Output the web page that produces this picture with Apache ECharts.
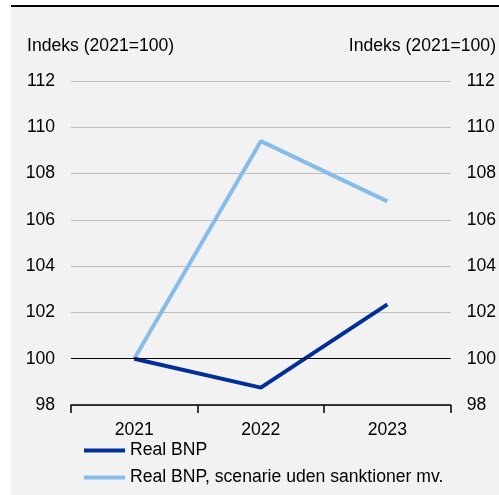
<!DOCTYPE html>
<html>
<head>
<meta charset="utf-8">
<script src="https://cdn.jsdelivr.net/npm/echarts@6/dist/echarts.min.js"></script>
<style>
  html, body { margin: 0; padding: 0; background: #fff; }
  #chart { width: 499px; height: 495px; }
</style>
</head>
<body>
<div id="chart"></div>
<script>
// data
var years = ['2021', '2022', '2023'];
var realBnp = [100, 98.75, 102.35];
var scenarioBnp = [100, 109.4, 106.8];
var yTicks = { min: 98, max: 112, step: 2 };
var axisTitle = 'Indeks (2021=100)';

var chart = echarts.init(document.getElementById('chart'));
var font = 'Liberation Sans, Arial, sans-serif';
var fs = 17.6;

var option = {
  animation: false,
  textStyle: { fontFamily: font },
  graphic: [
    { type: 'rect', shape: { x: 11, y: 7, width: 488, height: 488 }, style: { fill: '#f2f2f2' }, z: -10 },
    { type: 'rect', shape: { x: 11, y: 5, width: 488, height: 2 }, style: { fill: '#000' } },
    { type: 'text', left: 27, top: 37, style: { text: axisTitle, font: fs + 'px ' + font, fill: '#000' } },
    { type: 'text', right: 3, top: 37, style: { text: axisTitle, font: fs + 'px ' + font, fill: '#000' } }
  ],
  grid: { left: 71, right: 47, top: 81, bottom: 90 },
  legend: {
    orient: 'vertical',
    left: 79,
    top: 436,
    icon: 'rect',
    itemWidth: 41,
    itemHeight: 4,
    itemGap: 8,
    textStyle: { fontSize: fs, color: '#000', fontFamily: font, lineHeight: 19 },
    data: ['Real BNP', 'Real BNP, scenarie uden sanktioner mv.']
  },
  xAxis: {
    type: 'category',
    data: years,
    boundaryGap: true,
    axisLine: { lineStyle: { color: '#000', width: 1.5 } },
    axisTick: { show: true, length: 8, lineStyle: { color: '#000', width: 1.5 } },
    axisLabel: { color: '#000', fontSize: fs, margin: 16 }
  },
  yAxis: [
    {
      type: 'value',
      min: yTicks.min, max: yTicks.max, interval: yTicks.step,
      position: 'left',
      axisLine: { show: false },
      axisTick: { show: false },
      axisLabel: { color: '#000', fontSize: fs, margin: 16 },
      splitLine: { show: true, lineStyle: { color: '#bfbfbf', width: 1 } }
    },
    {
      type: 'value',
      min: yTicks.min, max: yTicks.max, interval: yTicks.step,
      position: 'right',
      axisLine: { show: false },
      axisTick: { show: false },
      axisLabel: { color: '#000', fontSize: fs, margin: 16 },
      splitLine: { show: false }
    }
  ],
  series: [
    {
      name: 'Real BNP, scenarie uden sanktioner mv.',
      type: 'line',
      data: scenarioBnp,
      symbol: 'none',
      itemStyle: { color: '#85bde8' },
      lineStyle: { color: '#85bde8', width: 4 },
      z: 3,
      markLine: {
        silent: true,
        symbol: 'none',
        label: { show: false },
        lineStyle: { color: '#000', width: 1.2, type: 'solid' },
        data: [{ yAxis: 100 }]
      }
    },
    {
      name: 'Real BNP',
      type: 'line',
      data: realBnp,
      symbol: 'none',
      itemStyle: { color: '#002f9a' },
      lineStyle: { color: '#002f9a', width: 4 },
      z: 4
    }
  ]
};

chart.setOption(option);
</script>
</body>
</html>
